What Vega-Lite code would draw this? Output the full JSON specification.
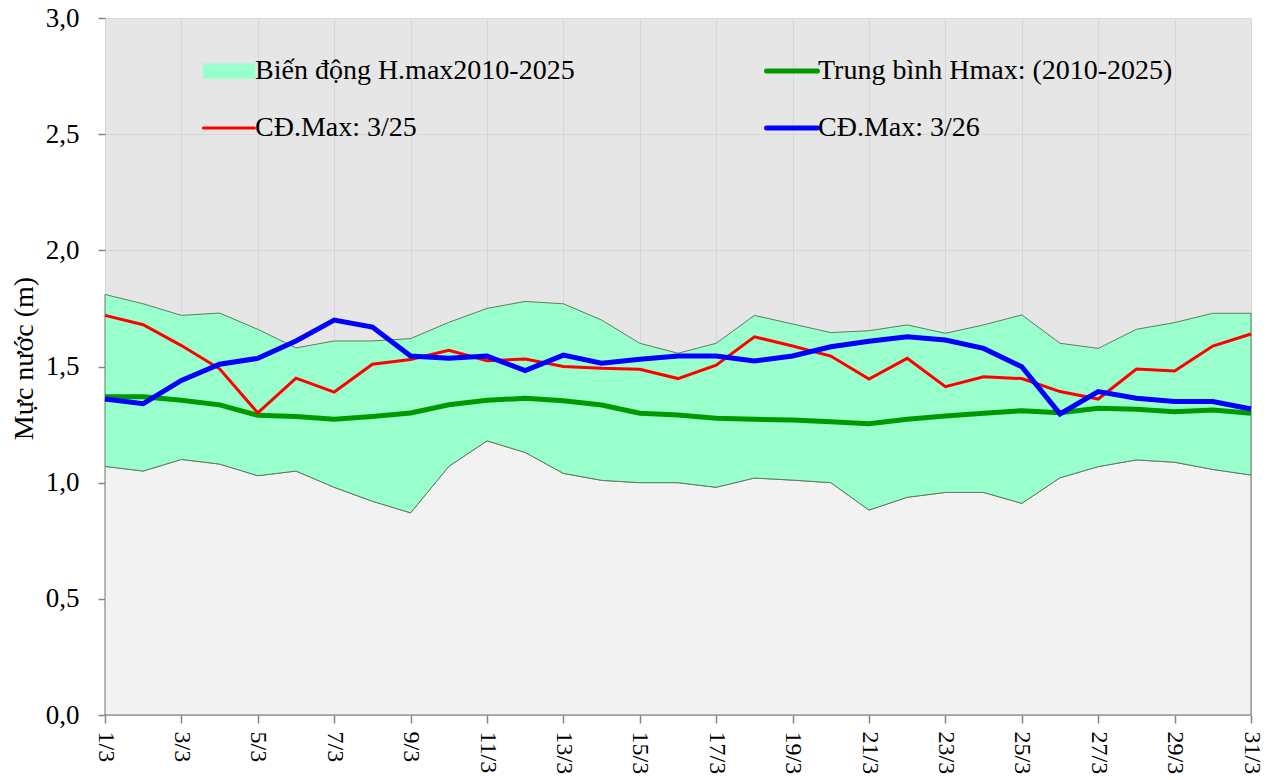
{
  "$schema": "https://vega.github.io/schema/vega-lite/v6.json",
  "width": 1146,
  "height": 697,
  "autosize": {"type": "none"},
  "padding": {"left": 105, "top": 18, "right": 28, "bottom": 65},
  "background": "white",
  "config": {
    "view": {"stroke": null, "fill": "#e6e6e6"},
    "font": "Liberation Serif",
    "style": {"guide-label": {"font": "Liberation Serif"}, "guide-title": {"font": "Liberation Serif"}},
    "axis": {"domain": false, "gridColor": "#d6d6d6", "gridWidth": 1, "tickColor": "#878787", "tickWidth": 1.5, "labelColor": "#000000", "labelFont": "Liberation Serif", "titleFont": "Liberation Serif", "titleColor": "#000000", "titleFontWeight": "normal", "zindex": 0},
    "axisY": {"labelFont": "Liberation Serif", "labelFontSize": 27, "labelPadding": 19, "tickSize": 7, "titleFontSize": 28, "titleX": -81, "titleY": 340, "titleBaseline": "middle", "titleAlign": "center", "titleAngle": -90},
    "axisX": {"labelFont": "Liberation Serif", "labelFontSize": 24, "labelPadding": 8, "tickSize": 8, "labelAngle": 90},
    "legend": {"labelFont": "Liberation Serif"}
  },
  "datasets": {
    "hm": [
      {"day": 1, "max": 1.81, "min": 1.07, "mean": 1.37, "cd25": 1.72, "cd26": 1.36},
      {"day": 2, "max": 1.77, "min": 1.05, "mean": 1.37, "cd25": 1.68, "cd26": 1.34},
      {"day": 3, "max": 1.72, "min": 1.10, "mean": 1.355, "cd25": 1.59, "cd26": 1.44},
      {"day": 4, "max": 1.73, "min": 1.08, "mean": 1.335, "cd25": 1.49, "cd26": 1.51},
      {"day": 5, "max": 1.66, "min": 1.03, "mean": 1.29, "cd25": 1.30, "cd26": 1.535},
      {"day": 6, "max": 1.58, "min": 1.05, "mean": 1.285, "cd25": 1.45, "cd26": 1.61},
      {"day": 7, "max": 1.61, "min": 0.98, "mean": 1.273, "cd25": 1.39, "cd26": 1.70},
      {"day": 8, "max": 1.61, "min": 0.92, "mean": 1.285, "cd25": 1.51, "cd26": 1.67},
      {"day": 9, "max": 1.62, "min": 0.87, "mean": 1.30, "cd25": 1.53, "cd26": 1.545},
      {"day": 10, "max": 1.69, "min": 1.07, "mean": 1.335, "cd25": 1.57, "cd26": 1.535},
      {"day": 11, "max": 1.75, "min": 1.18, "mean": 1.355, "cd25": 1.525, "cd26": 1.545},
      {"day": 12, "max": 1.78, "min": 1.13, "mean": 1.363, "cd25": 1.532, "cd26": 1.482},
      {"day": 13, "max": 1.77, "min": 1.04, "mean": 1.353, "cd25": 1.50, "cd26": 1.549},
      {"day": 14, "max": 1.70, "min": 1.01, "mean": 1.334, "cd25": 1.492, "cd26": 1.514},
      {"day": 15, "max": 1.60, "min": 1.00, "mean": 1.299, "cd25": 1.488, "cd26": 1.531},
      {"day": 16, "max": 1.557, "min": 1.00, "mean": 1.291, "cd25": 1.448, "cd26": 1.545},
      {"day": 17, "max": 1.60, "min": 0.98, "mean": 1.277, "cd25": 1.506, "cd26": 1.545},
      {"day": 18, "max": 1.72, "min": 1.02, "mean": 1.273, "cd25": 1.628, "cd26": 1.524},
      {"day": 19, "max": 1.683, "min": 1.011, "mean": 1.27, "cd25": 1.588, "cd26": 1.545},
      {"day": 20, "max": 1.646, "min": 1.00, "mean": 1.262, "cd25": 1.545, "cd26": 1.585},
      {"day": 21, "max": 1.654, "min": 0.882, "mean": 1.254, "cd25": 1.446, "cd26": 1.609},
      {"day": 22, "max": 1.679, "min": 0.937, "mean": 1.273, "cd25": 1.535, "cd26": 1.628},
      {"day": 23, "max": 1.643, "min": 0.958, "mean": 1.287, "cd25": 1.413, "cd26": 1.614},
      {"day": 24, "max": 1.679, "min": 0.958, "mean": 1.299, "cd25": 1.456, "cd26": 1.578},
      {"day": 25, "max": 1.722, "min": 0.911, "mean": 1.31, "cd25": 1.448, "cd26": 1.499},
      {"day": 26, "max": 1.60, "min": 1.021, "mean": 1.301, "cd25": 1.392, "cd26": 1.296},
      {"day": 27, "max": 1.578, "min": 1.069, "mean": 1.32, "cd25": 1.36, "cd26": 1.392},
      {"day": 28, "max": 1.66, "min": 1.098, "mean": 1.316, "cd25": 1.489, "cd26": 1.363},
      {"day": 29, "max": 1.689, "min": 1.088, "mean": 1.305, "cd25": 1.481, "cd26": 1.349},
      {"day": 30, "max": 1.729, "min": 1.057, "mean": 1.313, "cd25": 1.588, "cd26": 1.349},
      {"day": 31, "max": 1.729, "min": 1.033, "mean": 1.299, "cd25": 1.64, "cd26": 1.317}
    ],
    "minor": [
      {"v": 0.1}, {"v": 0.2}, {"v": 0.3}, {"v": 0.4}, {"v": 0.6}, {"v": 0.7}, {"v": 0.8}, {"v": 0.9},
      {"v": 1.1}, {"v": 1.2}, {"v": 1.3}, {"v": 1.4}, {"v": 1.6}, {"v": 1.7}, {"v": 1.8}, {"v": 1.9},
      {"v": 2.1}, {"v": 2.2}, {"v": 2.3}, {"v": 2.4}, {"v": 2.6}, {"v": 2.7}, {"v": 2.8}, {"v": 2.9},
      {"v": 0.5}, {"v": 1.0}, {"v": 1.5}, {"v": 2.0}, {"v": 2.5}
    ]
  },
  "data": {"name": "hm"},
  "encoding": {
    "x": {"field": "day", "type": "quantitative", "scale": {"domain": [1, 31], "nice": false, "zero": false},
      "axis": {"values": [1,3,5,7,9,11,13,15,17,19,21,23,25,27,29,31], "labelExpr": "datum.value + '/3'", "labelAngle": 90, "labelFont": "Liberation Serif", "labelFontSize": 24, "labelPadding": 8, "tickSize": 8, "grid": true, "title": null}}
  },
  "layer": [
    {
      "mark": {"type": "area", "fill": "#f2f2f2", "stroke": "#5e7d5e", "strokeWidth": 1, "opacity": 1},
      "encoding": {
        "y": {"field": "min", "type": "quantitative", "scale": {"domain": [0, 3], "nice": false, "zero": true},
          "axis": {"values": [0, 0.5, 1, 1.5, 2, 2.5, 3], "labelExpr": "replace(format(datum.value, '.1f'), '.', ',')", "labelFont": "Liberation Serif", "labelFontSize": 27, "labelPadding": 19, "tickSize": 7, "grid": true, "title": "Mực nước (m)"}},
        "y2": {"datum": 0}
      }
    },
    {
      "mark": {"type": "area", "stroke": "#5e7d5e", "strokeWidth": 1, "opacity": 1},
      "encoding": {
        "y": {"field": "max", "type": "quantitative", "axis": {"values": [0, 0.5, 1, 1.5, 2, 2.5, 3], "labelExpr": "replace(format(datum.value, '.1f'), '.', ',')", "labelFont": "Liberation Serif", "labelFontSize": 27, "labelPadding": 19, "tickSize": 7, "grid": true, "title": "Mực nước (m)"}},
        "y2": {"field": "min"},
        "color": {"datum": "Biến động H.max2010-2025", "type": "nominal",
          "scale": {"domain": ["Biến động H.max2010-2025", "Trung bình Hmax: (2010-2025)", "CĐ.Max: 3/25", "CĐ.Max: 3/26"], "range": ["#99ffcc", "#009900", "#ff0000", "#0000ff"]},
          "legend": {
            "orient": "none", "legendX": 110, "legendY": 39, "direction": "horizontal", "columns": 2, "columnPadding": 181, "rowPadding": 29, "title": null,
            "labelFont": "Liberation Serif", "labelFontSize": 28, "labelColor": "#000000", "labelOffset": 12, "labelLimit": 0, "symbolSize": 2600,
            "encode": {"symbols": {"update": {
              "shape": {"signal": "datum.index === 0 ? 'M-1,-0.27H1V0.27H-1Z' : 'M-1,0H1'"},
              "fill": {"signal": "datum.index === 0 ? '#99ffcc' : 'transparent'"},
              "stroke": {"signal": "['#5e7d5e','#009900','#ff0000','#0000ff'][datum.index]"},
              "strokeWidth": {"signal": "datum.index === 0 ? 1.5 : (datum.index === 2 ? 3 : 5)"},
              "strokeCap": {"value": "round"},
              "opacity": {"value": 1}
            }}}
          }}
      }
    },
    {
      "mark": {"type": "line", "strokeWidth": 5},
      "encoding": {"y": {"field": "mean", "type": "quantitative"}, "color": {"datum": "Trung bình Hmax: (2010-2025)", "type": "nominal",
        "legend": {
            "orient": "none", "legendX": 110, "legendY": 39, "direction": "horizontal", "columns": 2, "columnPadding": 181, "rowPadding": 29, "title": null,
            "labelFont": "Liberation Serif", "labelFontSize": 28, "labelColor": "#000000", "labelOffset": 12, "labelLimit": 0, "symbolSize": 2600,
            "encode": {"symbols": {"update": {
              "shape": {"signal": "datum.index === 0 ? 'M-1,-0.27H1V0.27H-1Z' : 'M-1,0H1'"},
              "fill": {"signal": "datum.index === 0 ? '#99ffcc' : 'transparent'"},
              "stroke": {"signal": "['#5e7d5e','#009900','#ff0000','#0000ff'][datum.index]"},
              "strokeWidth": {"signal": "datum.index === 0 ? 1.5 : (datum.index === 2 ? 3 : 5)"},
              "strokeCap": {"value": "round"},
              "opacity": {"value": 1}
            }}}
          }}}
    },
    {
      "mark": {"type": "line", "strokeWidth": 3},
      "encoding": {"y": {"field": "cd25", "type": "quantitative"}, "color": {"datum": "CĐ.Max: 3/25", "type": "nominal",
        "legend": {
            "orient": "none", "legendX": 110, "legendY": 39, "direction": "horizontal", "columns": 2, "columnPadding": 181, "rowPadding": 29, "title": null,
            "labelFont": "Liberation Serif", "labelFontSize": 28, "labelColor": "#000000", "labelOffset": 12, "labelLimit": 0, "symbolSize": 2600,
            "encode": {"symbols": {"update": {
              "shape": {"signal": "datum.index === 0 ? 'M-1,-0.27H1V0.27H-1Z' : 'M-1,0H1'"},
              "fill": {"signal": "datum.index === 0 ? '#99ffcc' : 'transparent'"},
              "stroke": {"signal": "['#5e7d5e','#009900','#ff0000','#0000ff'][datum.index]"},
              "strokeWidth": {"signal": "datum.index === 0 ? 1.5 : (datum.index === 2 ? 3 : 5)"},
              "strokeCap": {"value": "round"},
              "opacity": {"value": 1}
            }}}
          }}}
    },
    {
      "mark": {"type": "line", "strokeWidth": 5},
      "encoding": {"y": {"field": "cd26", "type": "quantitative"}, "color": {"datum": "CĐ.Max: 3/26", "type": "nominal",
        "legend": {
            "orient": "none", "legendX": 110, "legendY": 39, "direction": "horizontal", "columns": 2, "columnPadding": 181, "rowPadding": 29, "title": null,
            "labelFont": "Liberation Serif", "labelFontSize": 28, "labelColor": "#000000", "labelOffset": 12, "labelLimit": 0, "symbolSize": 2600,
            "encode": {"symbols": {"update": {
              "shape": {"signal": "datum.index === 0 ? 'M-1,-0.27H1V0.27H-1Z' : 'M-1,0H1'"},
              "fill": {"signal": "datum.index === 0 ? '#99ffcc' : 'transparent'"},
              "stroke": {"signal": "['#5e7d5e','#009900','#ff0000','#0000ff'][datum.index]"},
              "strokeWidth": {"signal": "datum.index === 0 ? 1.5 : (datum.index === 2 ? 3 : 5)"},
              "strokeCap": {"value": "round"},
              "opacity": {"value": 1}
            }}}
          }}}
    },
    {
      "data": {"values": [{}]},
      "mark": {"type": "rect", "fill": null, "fillOpacity": 0, "stroke": "#ffffff", "strokeWidth": 2},
      "encoding": {"x": {"datum": 1.419, "type": "quantitative"}, "x2": {"datum": 30.71}, "y": {"datum": 2.905, "type": "quantitative"}, "y2": {"datum": 2.397}}
    },
    {
      "data": {"name": "minor"},
      "mark": {"type": "rule", "color": "#878787", "strokeWidth": 1.5},
      "encoding": {"x": {"datum": 1, "type": "quantitative"}, "x2": {"datum": 1.13}, "y": {"field": "v", "type": "quantitative"}}
    },
    {
      "data": {"values": [{}]},
      "mark": {"type": "rule", "color": "#878787", "strokeWidth": 2},
      "encoding": {"x": {"datum": 1, "type": "quantitative"}, "y": {"datum": 0, "type": "quantitative"}, "y2": {"datum": 3}}
    },
    {
      "data": {"values": [{}]},
      "mark": {"type": "rule", "color": "#878787", "strokeWidth": 2},
      "encoding": {"x": {"datum": 1, "type": "quantitative"}, "x2": {"datum": 31}, "y": {"datum": 0, "type": "quantitative"}}
    }
  ]
}
